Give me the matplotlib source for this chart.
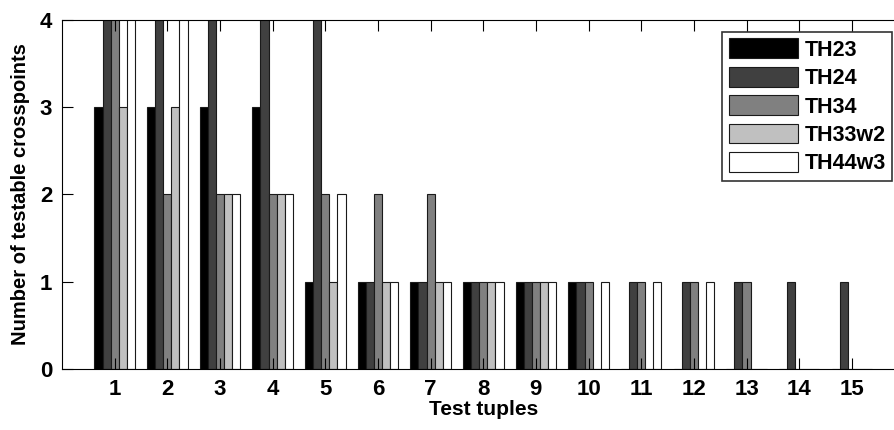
import numpy as np
import matplotlib.pyplot as plt

plt.rcParams['font.family'] = ['Liberation Sans', 'DejaVu Sans']
plt.rcParams['font.weight'] = 'bold'

# number of testable crosspoints per test tuple (values above 4 run off the top)
tuples = np.arange(1, 16)
th23   = [3, 3, 3, 3, 1, 1, 1, 1, 1, 1, 0, 0, 0, 0, 0]
th24   = [5, 5, 5, 5, 5, 1, 1, 1, 1, 1, 1, 1, 1, 1, 1]
th34   = [5, 2, 2, 2, 2, 2, 2, 1, 1, 1, 1, 1, 1, 0, 0]
th33w2 = [3, 3, 2, 2, 1, 1, 1, 1, 1, 0, 0, 0, 0, 0, 0]
th44w3 = [5, 5, 2, 2, 2, 1, 1, 1, 1, 1, 1, 1, 0, 0, 0]

series = [th23, th24, th34, th33w2, th44w3]
names = ["TH23", "TH24", "TH34", "TH33w2", "TH44w3"]
colors = ["#000000", "#404040", "#808080", "#c0c0c0", "#ffffff"]

fig = plt.figure(figsize=(8.95, 4.3), dpi=100)
ax = fig.add_axes([0.0693, 0.1419, 0.9413, 0.8116])

w = 0.154
for i, (vals, name, c) in enumerate(zip(series, names, colors)):
    ax.bar(tuples + (i - 2) * w, vals, width=w, color=c, edgecolor="#1a1a1a",
           linewidth=0.8, label=name)

ax.set_xlim(0, 16)
ax.set_ylim(0, 4)
ax.set_xticks(tuples)
ax.set_yticks(range(5))
ax.tick_params(direction="in", length=8, width=0.8, labelsize=16, pad=7,
               top=True, right=False)
ax.set_xlabel("Test tuples", fontsize=15, fontweight="bold", labelpad=0)
ax.set_ylabel("Number of testable crosspoints", fontsize=14.5, fontweight="bold", labelpad=7)

# legend box pinned to the upper right of the figure
leg = ax.legend(loc="upper right", bbox_to_anchor=(892 / 895, 1 - 32 / 430),
                bbox_transform=fig.transFigure, fontsize=15.5,
                frameon=True, fancybox=False, edgecolor="black", borderpad=0.3,
                labelspacing=0.28, handlelength=3.2, handleheight=1.05,
                handletextpad=0.3, borderaxespad=0)
leg.get_frame().set_linewidth(1.2)
for t in leg.get_texts():
    t.set_fontweight("bold")

fig.savefig("out.png", dpi=100)
